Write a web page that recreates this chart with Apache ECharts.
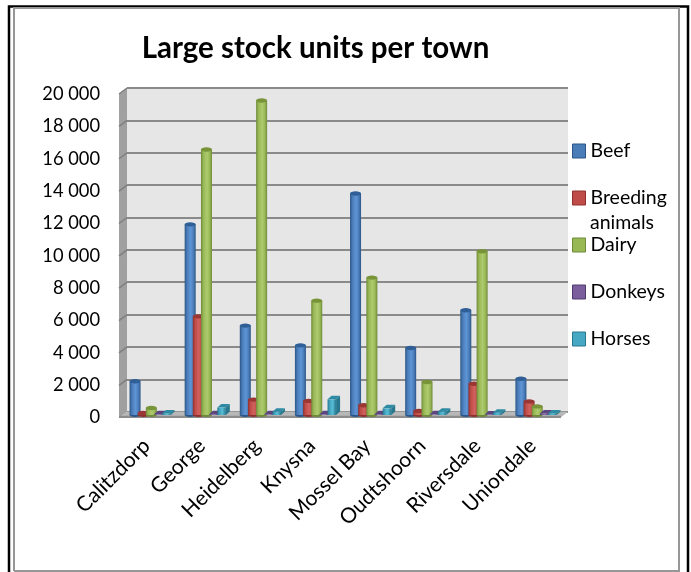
<!DOCTYPE html>
<html>
<head>
<meta charset="utf-8">
<style>html,body{margin:0;padding:0;background:#fff}#chart{width:691px;height:572px}</style>
<script src="https://cdn.jsdelivr.net/npm/echarts@6/dist/echarts.min.js"></script>
</head>
<body>
<div id="chart"></div>
<script>
const towns = ["Calitzdorp", "George", "Heidelberg", "Knysna", "Mossel Bay", "Oudtshoorn", "Riversdale", "Uniondale"];
const beef = [2080, 11770, 5520, 4300, 13670, 4140, 6470, 2240];
const breeding = [120, 6090, 950, 870, 600, 250, 1930, 840];
const dairy = [430, 16390, 19410, 7060, 8480, 2040, 10110, 530];
const donkeys = [40, 50, 40, 50, 50, 40, 30, 100];
const horses = [100, 460, 200, 970, 410, 200, 140, 100];
const yTicks = [2000, 4000, 6000, 8000, 10000, 12000, 14000, 16000, 18000, 20000];

const FONT = "Lato";

// colours: edge, body, highlight, top
const looks = {
  Beef: ["#2b5687", "#4a7cb8", "#5f95d6", "#2f5f96"],
  Breeding: ["#8e302d", "#bf4c48", "#d0625e", "#9a3633"],
  Dairy: ["#6f8a38", "#98b856", "#aecb6e", "#789439"],
  Donkeys: ["#4f3b6e", "#7b5f9d", "#8f74b1", "#5c4680"],
  Horses: ["#27788f", "#46a8c2", "#58bdd6", "#2f8aa3"],
};

function cylinder(look) {
  return function (params, api) {
    const base = api.coord([api.value(0), 0]);
    const top = api.coord([api.value(0), api.value(1)]);
    const band = api.size([1, 0])[0];
    const w = band * 0.2;
    const x = base[0] - band * 0.396 + params.seriesIndex * band * 0.148;
    const c = look;
    return {
      type: "group",
      children: [
        { type: "ellipse", shape: { cx: x + w / 2, cy: base[1], rx: w / 2, ry: 2 }, style: { fill: c[0] } },
        {
          type: "rect",
          shape: { x: x, y: top[1], width: w, height: base[1] - top[1] },
          style: {
            fill: new echarts.graphic.LinearGradient(0, 0, 1, 0, [
              { offset: 0, color: c[0] },
              { offset: 0.22, color: c[1] },
              { offset: 0.55, color: c[2] },
              { offset: 0.8, color: c[1] },
              { offset: 1, color: c[0] },
            ]),
          },
        },
        { type: "ellipse", shape: { cx: x + w / 2, cy: top[1], rx: w / 2, ry: 2.2 }, style: { fill: c[3] } },
      ],
    };
  };
}

function box(look) {
  return function (params, api) {
    const base = api.coord([api.value(0), 0]);
    const top = api.coord([api.value(0), api.value(1)]);
    const band = api.size([1, 0])[0];
    const w = band * 0.155;
    const d = 4;
    const x = base[0] - band * 0.396 + params.seriesIndex * band * 0.148;
    const c = look;
    return {
      type: "group",
      children: [
        {
          type: "polygon",
          shape: { points: [[x + w, top[1]], [x + w + d, top[1] - 3.5], [x + w + d, base[1] - 3.5], [x + w, base[1]]] },
          style: { fill: c[0] },
        },
        {
          type: "polygon",
          shape: { points: [[x, top[1]], [x + d, top[1] - 3.5], [x + w + d, top[1] - 3.5], [x + w, top[1]]] },
          style: { fill: c[3] },
        },
        {
          type: "rect",
          shape: { x: x, y: top[1], width: w, height: base[1] - top[1] },
          style: {
            fill: new echarts.graphic.LinearGradient(0, 0, 1, 0, [
              { offset: 0, color: c[0] },
              { offset: 0.3, color: c[1] },
              { offset: 0.6, color: c[2] },
              { offset: 1, color: c[0] },
            ]),
          },
        },
      ],
    };
  };
}

function barSeries(name, values, draw) {
  return {
    name: name,
    type: "custom",
    xAxisIndex: 1,
    yAxisIndex: 1,
    z: 5,
    renderItem: draw(looks[name]),
    itemStyle: { color: looks[name][1] },
    encode: { x: 0, y: 1 },
    data: values.map((v, i) => [i, v]),
  };
}

const chart = echarts.init(document.getElementById("chart"));

chart.setOption({
  animation: false,
  title: {
    text: "Large stock units per town",
    left: 310.5,
    top: 28,
    textAlign: "center",
    textStyle: { fontFamily: FONT, fontSize: 29.5, fontWeight: "bold", color: "#000" },
  },
  legend: {
    orient: "vertical",
    left: 572,
    top: 141,
    padding: 0,
    itemWidth: 13,
    itemHeight: 14,
    itemGap: 27,
    icon: "rect",
    selectedMode: false,
    textStyle: { fontFamily: FONT, fontSize: 19.5, color: "#000", lineHeight: 14, padding: [0, 0, 0, 0] },
    data: Object.keys(looks).map((k) => ({
      name: k,
      itemStyle: { color: looks[k][1], borderColor: looks[k][0], borderWidth: 1 },
    })),
  },
  // back wall, bars, front edge
  grid: [
    { left: 127, width: 441, top: 88, height: 323.7, show: true, backgroundColor: "#e6e6e6", borderWidth: 0 },
    { left: 123.8, width: 441, top: 91, height: 324 },
    { left: 119, width: 441, top: 94, height: 323.5 },
  ],
  xAxis: [
    { type: "category", gridIndex: 0, data: towns, axisLine: { show: false }, axisTick: { show: false }, axisLabel: { show: false } },
    { type: "category", gridIndex: 1, data: towns, axisLine: { show: false }, axisTick: { show: false }, axisLabel: { show: false } },
    {
      type: "category",
      gridIndex: 2,
      data: towns,
      axisLine: { show: false },
      axisTick: { show: false },
      axisLabel: { rotate: 45, margin: 25, interval: 0, fontFamily: FONT, fontSize: 21, color: "#000" },
    },
  ],
  yAxis: [
    {
      type: "value",
      gridIndex: 0,
      min: 0,
      max: 20000,
      interval: 2000,
      axisLine: { show: false },
      axisTick: { show: false },
      axisLabel: { show: false },
      splitLine: { lineStyle: { color: "#8a8a8a", width: 2 } },
    },
    { type: "value", gridIndex: 1, min: 0, max: 20000, interval: 2000, axisLine: { show: false }, axisTick: { show: false }, axisLabel: { show: false }, splitLine: { show: false } },
    {
      type: "value",
      gridIndex: 2,
      min: 0,
      max: 20000,
      interval: 2000,
      axisLine: { show: false },
      axisTick: { show: false },
      splitLine: { show: false },
      axisLabel: {
        margin: 19,
        fontFamily: FONT,
        fontSize: 18.3,
        color: "#000",
        formatter: (v) => String(v).replace(/\B(?=(\d{3})+$)/g, " "),
      },
    },
  ],
  series: [
    barSeries("Beef", beef, cylinder),
    barSeries("Breeding", breeding, cylinder),
    barSeries("Dairy", dairy, cylinder),
    barSeries("Donkeys", donkeys, box),
    barSeries("Horses", horses, box),
    // slanted gridline stubs on the left wall
    {
      type: "custom",
      xAxisIndex: 0,
      yAxisIndex: 0,
      z: 3,
      silent: true,
      renderItem: (params, api) => {
        const p = api.coord([0, api.value(0)]);
        const band = api.size([1, 0])[0];
        const x = p[0] - band / 2;
        return {
          type: "line",
          shape: { x1: x, y1: p[1], x2: x - 8, y2: p[1] + 6 },
          style: { stroke: "#7f7f7f", lineWidth: 1.5 },
        };
      },
      encode: { y: 0 },
      data: yTicks.map((v) => [v]),
    },
  ],
  graphic: [
    // outer frame
    { type: "polyline", z: 10, shape: { points: [[9, 572], [9, 6.5], [688, 6.5], [688, 572]] }, style: { stroke: "#000", lineWidth: 2.5, fill: null } },
    { type: "polyline", z: 10, shape: { points: [[14, 571], [14, 8], [679, 8], [679, 571], [14, 571]] }, style: { stroke: "#979797", lineWidth: 2, fill: null } },
    // left wall and floor
    { type: "polygon", z: 1, shape: { points: [[127, 88], [119, 94], [119, 418], [127, 412]] }, style: { fill: "#a0a0a0" } },
    { type: "polygon", z: 1, shape: { points: [[127, 411.7], [568, 411.7], [560, 418], [119, 418]] }, style: { fill: "#b8b8b8" } },
    { type: "rect", z: 1, shape: { x: 119, y: 415.7, width: 442, height: 2.4 }, style: { fill: "#8c8c8c" } },
    { type: "line", z: 1, shape: { x1: 127, y1: 88, x2: 568, y2: 88 }, style: { stroke: "#8a8a8a", lineWidth: 2 } },
    // second line of the wrapped legend entry
    { type: "text", z: 10, style: { x: 590, y: 222.5, text: "animals", fontFamily: FONT, fontSize: 19.5, fill: "#000", verticalAlign: "middle" } },
  ],
});
</script>
</body>
</html>
